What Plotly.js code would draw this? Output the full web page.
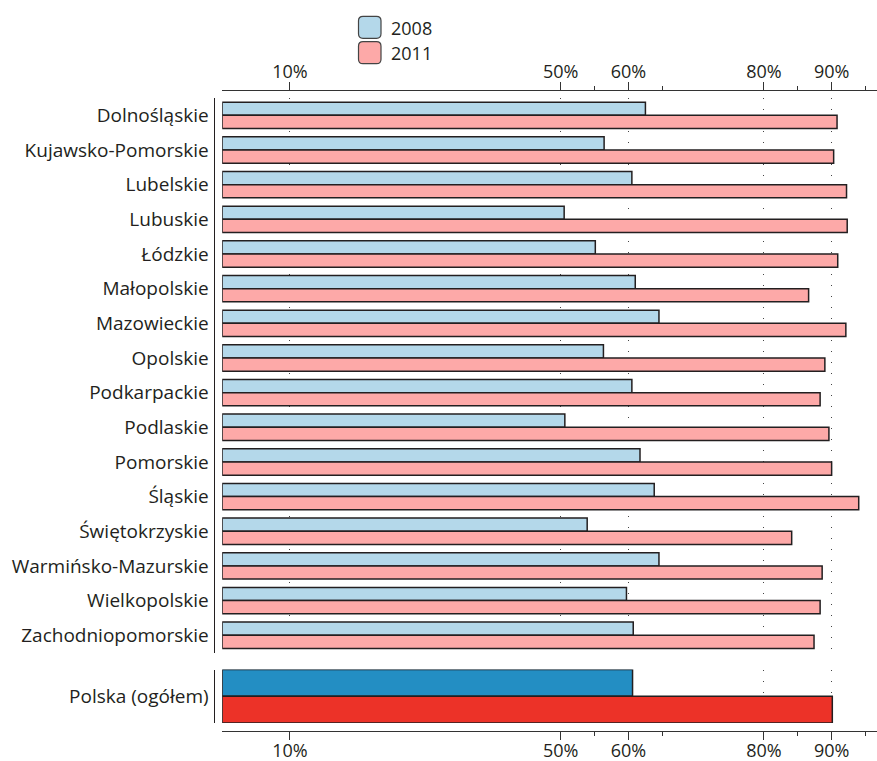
<!DOCTYPE html>
<html>
<head>
<meta charset="utf-8">
<script src="https://cdn.plot.ly/plotly-3.0.1.min.js"></script>
<style>html,body{margin:0;padding:0;background:#fff;}#chart{width:877px;height:761px;}</style>
</head>
<body>
<div id="chart"></div>
<script>
const categories = ['Dolnośląskie','Kujawsko-Pomorskie','Lubelskie','Lubuskie','Łódzkie','Małopolskie','Mazowieckie','Opolskie','Podkarpackie','Podlaskie','Pomorskie','Śląskie','Świętokrzyskie','Warmińsko-Mazurskie','Wielkopolskie','Zachodniopomorskie'];
const values2008 = [62.5,56.4,60.5,50.5,55.1,61.0,64.5,56.3,60.5,50.6,61.7,63.8,53.9,64.5,59.7,60.7];
const values2011 = [90.8,90.3,92.2,92.3,90.9,86.6,92.1,89.0,88.3,89.6,90.0,94.0,84.1,88.6,88.3,87.4];
const totalCategory = ['Polska (ogółem)'];
const total2008 = [60.6];
const total2011 = [90.1];
const seriesNames = ['2008','2011'];
const majorTicks = [10,50,60,80,90];
const majorTickText = ['10%','50%','60%','80%','90%'];
const minorTicks = [55,65,85,95];

const W = 877, H = 761;
const px = v => v / W;
const py = v => 1 - v / H;
const FONT = {family: '"Open Sans", sans-serif', size: 18, color: '#231f20'};
const YFONT = {family: '"Open Sans", sans-serif', size: 19, color: '#231f20'};
const OUT = '#231f20';

const cLight = ['#b4d8ea', '#fda9a8'];
const cDark = ['#238ec3', '#ec3228'];

const traces = [
  {type:'bar', orientation:'h', name:seriesNames[0], y:categories, x:values2008, xaxis:'x', yaxis:'y',
   marker:{color:cLight[0], line:{color:OUT, width:1.5}}},
  {type:'bar', orientation:'h', name:seriesNames[1], y:categories, x:values2011, xaxis:'x', yaxis:'y',
   marker:{color:cLight[1], line:{color:OUT, width:1.5}}},
  {type:'bar', orientation:'h', name:seriesNames[0], y:totalCategory, x:total2008, xaxis:'x2', yaxis:'y2',
   marker:{color:cDark[0], line:{color:OUT, width:1.5}}},
  {type:'bar', orientation:'h', name:seriesNames[1], y:totalCategory, x:total2011, xaxis:'x2', yaxis:'y2',
   marker:{color:cDark[1], line:{color:OUT, width:1.5}}}
];

const xBase = {
  range:[0, 96.7], domain:[px(222.2), 1], anchor:'free', fixedrange:true,
  tickmode:'array', tickvals:majorTicks, ticktext:majorTickText,
  ticks:'outside', ticklen:8, tickwidth:1, tickcolor:'#333', ticklabelstandoff:-3,
  showline:true, linecolor:'#333', linewidth:1.3,
  showgrid:true, gridcolor:'#444', gridwidth:1, griddash:'1px,10px',
  zeroline:false, tickfont:FONT,
  minor:{tickmode:'array', tickvals:minorTicks, ticks:'outside', ticklen:4, tickwidth:1, tickcolor:'#333', showgrid:false}
};

function rr(x0, y0, x1, y1, r) {
  const P = (x, y) => px(x) + ',' + py(y);
  return 'M' + P(x0 + r, y0) + ' L' + P(x1 - r, y0) + ' Q' + P(x1, y0) + ' ' + P(x1, y0 + r) +
    ' L' + P(x1, y1 - r) + ' Q' + P(x1, y1) + ' ' + P(x1 - r, y1) +
    ' L' + P(x0 + r, y1) + ' Q' + P(x0, y1) + ' ' + P(x0, y1 - r) +
    ' L' + P(x0, y0 + r) + ' Q' + P(x0, y0) + ' ' + P(x0 + r, y0) + ' Z';
}

const layout = {
  width:W, height:H, margin:{l:0, r:0, t:0, b:0},
  paper_bgcolor:'#fff', plot_bgcolor:'rgba(0,0,0,0)',
  font:FONT, showlegend:false, barmode:'group', bargap:0.24, bargroupgap:0,
  xaxis:Object.assign({}, xBase, {side:'top', position:py(90)}),
  xaxis2:Object.assign({}, xBase, {side:'bottom', position:py(730.7), ticklabelstandoff:-5}),
  yaxis:{type:'category', domain:[py(652.6), py(98)], range:[15.5, -0.5], anchor:'free', position:px(213.5),
    showline:true, linecolor:OUT, linewidth:1.5, ticks:'', ticklabelstandoff:1, showgrid:false, zeroline:false, tickfont:YFONT, fixedrange:true},
  yaxis2:{type:'category', domain:[py(723), py(669.5)], range:[0.38, -0.38], anchor:'free', position:px(213.5),
    showline:true, linecolor:OUT, linewidth:1.5, ticks:'', ticklabelstandoff:1, showgrid:false, zeroline:false, tickfont:YFONT, fixedrange:true},
  shapes:[
    {type:'path', xref:'paper', yref:'paper', path:rr(358.5, 16.3, 381, 38.3, 4.5), fillcolor:cLight[0], line:{color:'#444', width:1.2}},
    {type:'path', xref:'paper', yref:'paper', path:rr(358.5, 41.7, 381, 63.7, 4.5), fillcolor:cLight[1], line:{color:'#444', width:1.2}}
  ],
  annotations:[
    {xref:'paper', yref:'paper', x:px(389), y:py(28.3), xanchor:'left', yanchor:'middle', text:seriesNames[0], showarrow:false, font:FONT},
    {xref:'paper', yref:'paper', x:px(389), y:py(53.3), xanchor:'left', yanchor:'middle', text:seriesNames[1], showarrow:false, font:FONT}
  ]
};

Plotly.newPlot('chart', traces, layout, {displayModeBar:false, staticPlot:true});
</script>
</body>
</html>
